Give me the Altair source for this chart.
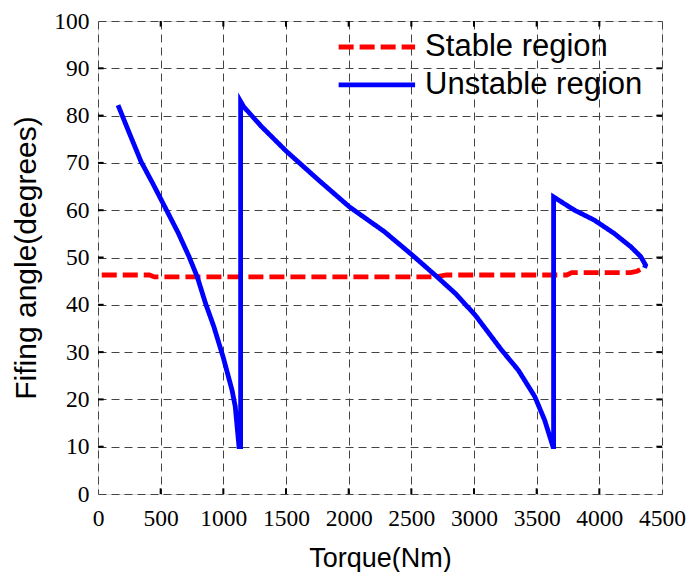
import altair as alt
import pandas as pd

# Stable region (red dashed)
stable_x = [30, 410, 450, 2700, 2780, 3740, 3780, 4250, 4300, 4355]
stable_y = [46.3, 46.3, 45.9, 45.9, 46.3, 46.3, 46.8, 46.8, 47.1, 47.8]

# Unstable region (blue solid)
unstable_x = [160, 250, 343, 440, 541, 640, 726, 792, 858, 924, 998, 1069, 1095, 1125, 1138, 1138,
              1162, 1300, 1505, 1750, 2006, 2283, 2508, 2706, 2851, 3010, 3221, 3353, 3485, 3564,
              3630, 3635, 3635, 3802, 3960, 4118, 4250, 4330, 4369, 4360]
unstable_y = [82.2, 76.3, 70.3, 65.5, 60.3, 55.2, 50.2, 45.9, 40.3, 35.4, 29.0, 22.0, 18.5, 10.0, 10.0, 83.0,
              81.9, 77.8, 72.4, 66.6, 60.7, 55.5, 50.5, 45.9, 42.4, 37.8, 30.4, 26.2, 20.6, 15.6,
              10.0, 10.0, 62.8, 60.0, 57.9, 55.1, 52.3, 50.2, 48.4, 47.8]

series_names = ["Stable region", "Unstable region"]
series_colors = ["#ff0000", "#0000ff"]
series_dashes = [[15, 6], [1, 0]]
x_ticks = list(range(0, 4501, 500))
y_ticks = list(range(0, 101, 10))

rows = []
for i, (x, y) in enumerate(zip(stable_x, stable_y)):
    rows.append({"series": series_names[0], "x": x, "y": y, "i": i})
for i, (x, y) in enumerate(zip(unstable_x, unstable_y)):
    rows.append({"series": series_names[1], "x": x, "y": y, "i": i})
df = pd.DataFrame(rows)

xs = alt.Scale(domain=[0, 4500], nice=False, zero=False)
ys = alt.Scale(domain=[0, 100], nice=False, zero=False)
color_scale = alt.Scale(domain=series_names, range=series_colors)
dash_scale = alt.Scale(domain=series_names, range=series_dashes)

x_axis = alt.Axis(values=x_ticks, format="d", title="Torque(Nm)", labelFontSize=23.5,
                  labelFont="Liberation Sans Narrow", titleFontSize=27,
                  titleFont="Liberation Sans", labelPadding=12, titlePadding=16,
                  titleFontWeight="normal", labelColor="black", titleColor="black",
                  grid=True, gridDash=[8, 5], gridColor="#444", gridWidth=1,
                  ticks=False, domain=False, labelFlush=False, labelOverlap=False)
y_axis = alt.Axis(values=y_ticks, format="d", title="Fifing angle(degrees)", labelFontSize=23.5,
                  labelFont="Liberation Sans Narrow", titleFontSize=30,
                  titleFont="Liberation Sans", labelPadding=9, titlePadding=12,
                  titleFontWeight="normal", labelColor="black", titleColor="black",
                  grid=True, gridDash=[8, 5], gridColor="#444", gridWidth=1,
                  ticks=False, domain=False, labelFlush=False, labelOverlap=False)

lines = alt.Chart(df).mark_line(strokeWidth=4.8).encode(
    x=alt.X("x:Q", scale=xs, axis=x_axis),
    y=alt.Y("y:Q", scale=ys, axis=y_axis),
    color=alt.Color("series:N", scale=color_scale, legend=None),
    strokeDash=alt.StrokeDash("series:N", scale=dash_scale, legend=None),
    order="i:Q",
)

# Legend drawn in data coordinates (top-right corner)
legend_df = pd.DataFrame({
    "series": series_names,
    "lx": [1920, 1920],
    "lx2": [2530, 2530],
    "ly": [94.5, 86.5],
    "tx": [2610, 2610],
})
legend_lines = alt.Chart(legend_df).mark_rule(strokeWidth=4.8).encode(
    x=alt.X("lx:Q", scale=xs), x2="lx2:Q",
    y=alt.Y("ly:Q", scale=ys),
    color=alt.Color("series:N", scale=color_scale, legend=None),
    strokeDash=alt.StrokeDash("series:N", scale=dash_scale, legend=None),
)
legend_text = alt.Chart(legend_df).mark_text(
    align="left", baseline="middle", fontSize=31, font="Liberation Sans", color="black"
).encode(
    x=alt.X("tx:Q", scale=xs),
    y=alt.Y("ly:Q", scale=ys),
    text="series:N",
)

inner_x = [v for v in x_ticks if 0 < v < 4500]
inner_y = [v for v in y_ticks if 0 < v < 100]
tick_rows = []
for v in inner_x:
    tick_rows.append({"x": v, "x2": v, "y": 0, "y2": 1.2})
    tick_rows.append({"x": v, "x2": v, "y": 100, "y2": 98.8})
for v in inner_y:
    tick_rows.append({"x": 0, "x2": 45, "y": v, "y2": v})
    tick_rows.append({"x": 4500, "x2": 4455, "y": v, "y2": v})
ticks_df = pd.DataFrame(tick_rows)

ticks = alt.Chart(ticks_df).mark_rule(color="black", strokeWidth=2).encode(
    x=alt.X("x:Q", scale=xs), x2="x2:Q",
    y=alt.Y("y:Q", scale=ys), y2="y2:Q",
)

chart = alt.layer(ticks, lines, legend_lines, legend_text).properties(
    width=564, height=473,
    autosize=alt.AutoSizeParams(type="none"),
    padding={"left": 90, "top": 13, "right": 24, "bottom": 78},
).configure_view(stroke="black", strokeWidth=3).configure(background="white")

chart.save("out.html", embed_options={"renderer": "svg", "actions": False})
